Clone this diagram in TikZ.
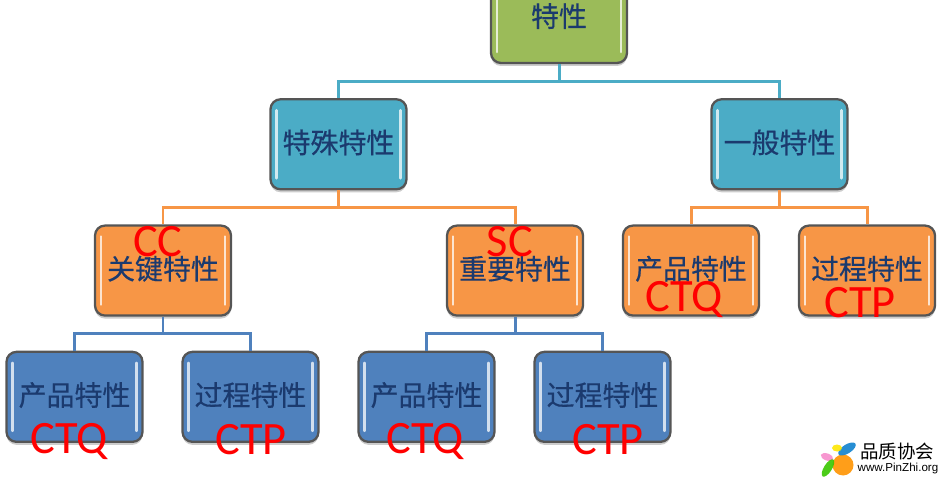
\documentclass[tikz,border=0pt]{standalone}
\usepackage{fontspec}
\setmainfont{Noto Sans CJK SC}
\newfontfamily\boxfont[FakeBold=0.4]{Noto Sans CJK SC}
\newfontfamily\latinfont{Carlito}
\newfontfamily\logofont{Liberation Sans}
\usetikzlibrary{positioning, shadows}
\definecolor{boxgreen}{HTML}{9BBB59}
\definecolor{boxteal}{HTML}{4BACC6}
\definecolor{boxorange}{HTML}{F79646}
\definecolor{boxblue}{HTML}{4F81BD}
\definecolor{boxedge}{HTML}{555555}
\definecolor{boxtext}{HTML}{1B3A6E}

\begin{document}
\begin{tikzpicture}[
  box/.style={rectangle, draw=boxedge, line width=1.3pt, rounded corners=0.2cm, minimum width=2.72cm, minimum height=1.8cm, inner sep=0pt, align=center, text depth=0.12cm, font=\boxfont\fontsize{15.9}{18}\selectfont, text=boxtext, drop shadow={opacity=0.4, shadow xshift=0pt, shadow yshift=-0.06cm},
    path picture={
      \draw[white, opacity=0.75, line width=1.5pt, line cap=round] ([shift={(0.12,-0.22)}]path picture bounding box.north west) -- ([shift={(0.12,0.22)}]path picture bounding box.south west);
      \draw[white, opacity=0.75, line width=1.5pt, line cap=round] ([shift={(-0.12,-0.22)}]path picture bounding box.north east) -- ([shift={(-0.12,0.22)}]path picture bounding box.south east);
    }},
  tag/.style={text=red, font=\latinfont\fontsize{26.4}{28}\selectfont, inner sep=0pt},
  link/.style={line width=1.7pt},
  petal/.style={draw=none, opacity=0.9},
  node distance=0.68cm
]
\clip (0,0) rectangle (18.88,-9.62);

\node[box, fill=boxgreen] (root) at (11.18,-0.36) {特性};
\node[box, fill=boxteal, below=of root, xshift=-4.41cm] (special) {特殊特性};
\node[box, fill=boxteal, below=of root, xshift=4.41cm] (general) {一般特性};
\node[box, fill=boxorange, below=of special, xshift=-3.51cm] (key) {关键特性};
\node[box, fill=boxorange, below=of special, xshift=3.53cm] (major) {重要特性};
\node[box, fill=boxorange, below=of general, xshift=-1.77cm] (genprod) {产品特性};
\node[box, fill=boxorange, below=of general, xshift=1.75cm] (genproc) {过程特性};
\node[box, fill=boxblue, below=of key, xshift=-1.77cm] (keyprod) {产品特性};
\node[box, fill=boxblue, below=of key, xshift=1.75cm] (keyproc) {过程特性};
\node[box, fill=boxblue, below=of major, xshift=-1.77cm] (majprod) {产品特性};
\node[box, fill=boxblue, below=of major, xshift=1.75cm] (majproc) {过程特性};

\draw[link, boxteal] (root.south) -- +(0,-0.34) -| (special.north);
\draw[link, boxteal] (root.south) -- +(0,-0.34) -| (general.north);
\draw[link, boxorange] (special.south) -- +(0,-0.34) -| (key.north);
\draw[link, boxorange] (special.south) -- +(0,-0.34) -| (major.north);
\draw[link, boxorange] (general.south) -- +(0,-0.34) -| (genprod.north);
\draw[link, boxorange] (general.south) -- +(0,-0.34) -| (genproc.north);
\draw[link, boxblue] (key.south) -- +(0,-0.34) -| (keyprod.north);
\draw[link, boxblue] (key.south) -- +(0,-0.34) -| (keyproc.north);
\draw[link, boxblue] (major.south) -- +(0,-0.34) -| (majprod.north);
\draw[link, boxblue] (major.south) -- +(0,-0.34) -| (majproc.north);

\node[tag] (keytag) at ([shift={(-0.10,0.58)}]key.center) {CC};
\node[tag] (majortag) at ([shift={(-0.10,0.58)}]major.center) {SC};
\node[tag] (genprodtag) at ([shift={(-0.14,-0.58)}]genprod.center) {CTQ};
\node[tag] (genproctag) at ([shift={(-0.14,-0.64)}]genproc.center) {CTP};
\node[tag] (keyprodtag) at ([shift={(-0.11,-0.90)}]keyprod.center) {CTQ};
\node[tag] (keyproctag) at ([shift={(0.01,-0.86)}]keyproc.center) {CTP};
\node[tag] (majprodtag) at ([shift={(-0.03,-0.90)}]majprod.center) {CTQ};
\node[tag] (majproctag) at ([shift={(0.11,-0.86)}]majproc.center) {CTP};

% logo
\fill[petal, orange!85!yellow] (16.86,-9.30) circle (0.21);
\fill[petal, cyan!65!blue, rotate around={32:(16.94,-8.98)}] (16.94,-8.98) ellipse (0.2 and 0.09);
\fill[petal, yellow!90!orange] (16.74,-8.96) ellipse (0.1 and 0.07);
\fill[petal, magenta!45, rotate around={-20:(16.54,-9.14)}] (16.54,-9.14) ellipse (0.13 and 0.07);
\fill[petal, green!55!olive, rotate around={58:(16.56,-9.36)}] (16.56,-9.36) ellipse (0.2 and 0.08);
\node[font=\fontsize{10.5}{12}\selectfont, inner sep=0pt] (logoname) at (17.94,-9.02) {品质协会};
\node[font=\logofont\fontsize{6.6}{8}\selectfont, inner sep=0pt] (logourl) at (17.96,-9.38) {www.PinZhi.org};
\end{tikzpicture}
\end{document}
